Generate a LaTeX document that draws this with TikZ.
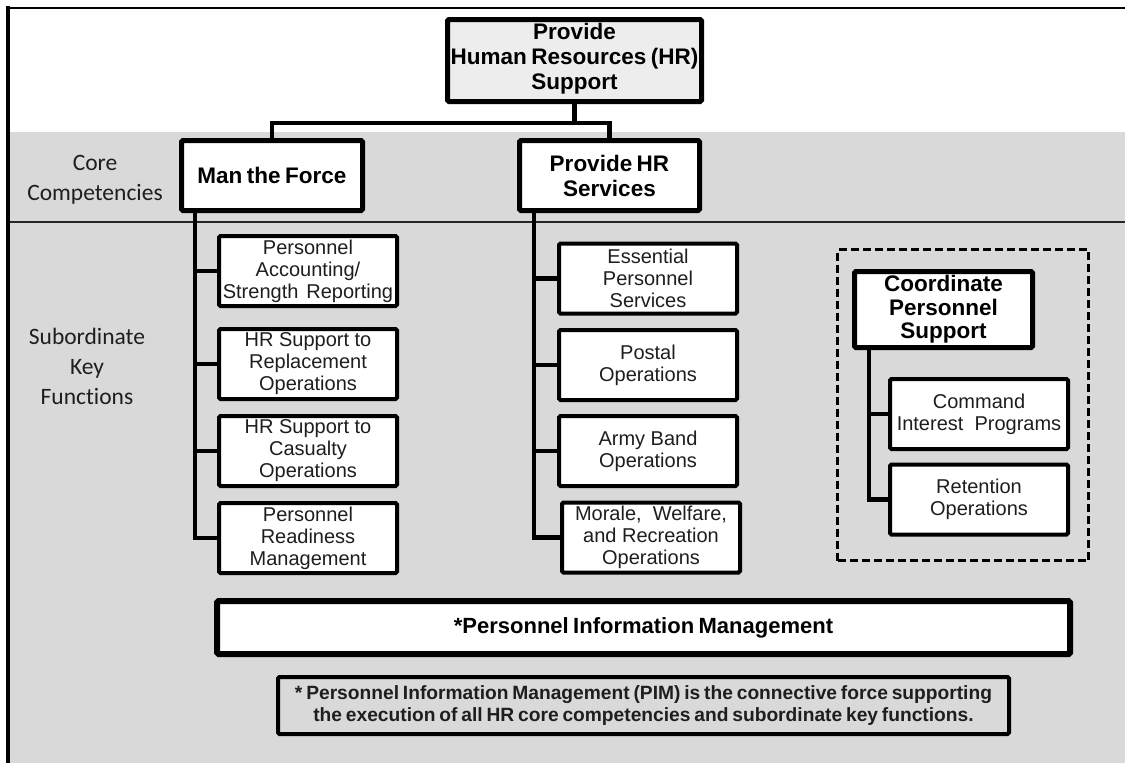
\documentclass[tikz,border=0pt]{standalone}
\usepackage{fontspec}
\setmainfont{Liberation Sans}
\newfontfamily\carlito[Ligatures=NoCommon]{Carlito}
\definecolor{bggray}{HTML}{D9D9D9}
\definecolor{topfill}{HTML}{EDEDED}
\definecolor{txt}{HTML}{1E1E1E}
\newcommand\tightsp{\spaceskip 0.2em\relax}
\begin{document}
\begin{tikzpicture}[x=1pt,y=-1pt,
  hdr/.style={draw=black, line width=5pt, fill=white, rounded corners=1.5pt, align=center, inner sep=0pt, text=black,
    font={\bfseries\fontsize{22.5}{25}\selectfont\tightsp}},
  sub/.style={draw=black, line width=4pt, fill=white, rounded corners=1.5pt, align=center, inner sep=0pt,
    minimum width=178pt, minimum height=70pt, text=txt, font={\fontsize{20}{22}\selectfont}},
  conn/.style={line width=4.5pt, draw=black},
  lbl/.style={align=center, inner sep=0pt, text=txt, font={\carlito\fontsize{23.5}{30}\selectfont}}
]
\useasboundingbox (0,0) rectangle (1125,763);
\fill[white] (0,0) rectangle (1125,763);
\fill[bggray] (10,132) rectangle (1125,763);
\draw[line width=1.2pt, black!85] (10,222) -- (1125,222);
\draw[line width=2.5pt] (6,8) -- (1125,8);
\draw[line width=3.5pt] (8,6) -- (8,763);

% labels
\node[lbl] (core) at (95,180) {Core\\Competencies};
\node[lbl] (skf) at (87,366) {Subordinate\\Key\\Functions};

% top level
\node[hdr, fill=topfill, minimum width=254pt, minimum height=82pt, text depth=9pt] (top) at (574.5,60.5) {Provide\\Human Resources (HR)\\Support};
\node[hdr, minimum width=181pt, minimum height=70pt] (man) at (272,175.5) {Man the Force};
\node[hdr, minimum width=180pt, minimum height=70pt] (hrs) at (609.5,175.5) {Provide HR\\Services};

% left column
\node[sub] (l1) at (308,271) {Personnel\\Accounting/\\Strength\hspace{0.4em}Reporting};
\node[sub] (l2) at (308,364) {HR Support to\\Replacement\\Operations};
\node[sub] (l3) at (308,451) {HR Support to\\Casualty\\Operations};
\node[sub] (l4) at (308,538) {Personnel\\Readiness\\Management};

% middle column
\node[sub] (m1) at (648,278.5) {Essential\\Personnel\\Services};
\node[sub] (m2) at (648,365) {Postal\\Operations};
\node[sub] (m3) at (648,451) {Army Band\\Operations};
\node[sub] (m4) at (651,537.5) {Morale,\ \ Welfare,\\and Recreation\\Operations};

% right group
\node[draw=black, line width=3pt, dash pattern=on 8pt off 4pt, minimum width=251pt, minimum height=311pt, inner sep=0pt] (grp) at (963,405) {};
\node[hdr, minimum width=178pt, minimum height=76pt, font={\bfseries\fontsize{22.5}{23.5}\selectfont}] (cps) at (943.5,309.5) {Coordinate\\Personnel\\Support};
\node[sub] (r1) at (979,414) {Command\\Interest\ \ Programs};
\node[sub] (r2) at (979,499.5) {Retention\\Operations};

% bottom
\node[hdr, line width=6pt, minimum width=853pt, minimum height=53pt, font={\bfseries\fontsize{22}{24}\selectfont\tightsp}] (pim) at (643.5,627.5) {*Personnel Information Management};
\node[draw=black, line width=4pt, rounded corners=1.5pt, minimum width=731pt, minimum height=57pt, inner sep=0pt, align=center, text=txt,
  font={\bfseries\fontsize{19.2}{22.5}\selectfont\tightsp}] (note) at (643.5,705.5)
  {* Personnel Information Management (PIM) is the connective force supporting\\the execution of all HR core competencies and subordinate key functions.};

% connectors
\coordinate (bus) at (0,123);
\draw[conn] (top.south) -- (top.south |- bus);
\draw[conn] (man.north) -- (man.north |- bus) -- (hrs.north |- bus) -- (hrs.north);

\coordinate (lt) at (195,0);
\draw[conn] (man.south -| lt) -- (l4.west -| lt) -- (l4.west);
\draw[conn] (l1.west -| lt) -- (l1.west);
\draw[conn] (l2.west -| lt) -- (l2.west);
\draw[conn] (l3.west -| lt) -- (l3.west);

\coordinate (mt) at (534,0);
\draw[conn] (hrs.south -| mt) -- (m4.west -| mt) -- (m4.west);
\draw[conn] (m1.west -| mt) -- (m1.west);
\draw[conn] (m2.west -| mt) -- (m2.west);
\draw[conn] (m3.west -| mt) -- (m3.west);

\coordinate (rt) at (869,0);
\draw[conn] (cps.south -| rt) -- (r2.west -| rt) -- (r2.west);
\draw[conn] (r1.west -| rt) -- (r1.west);
\end{tikzpicture}
\end{document}
